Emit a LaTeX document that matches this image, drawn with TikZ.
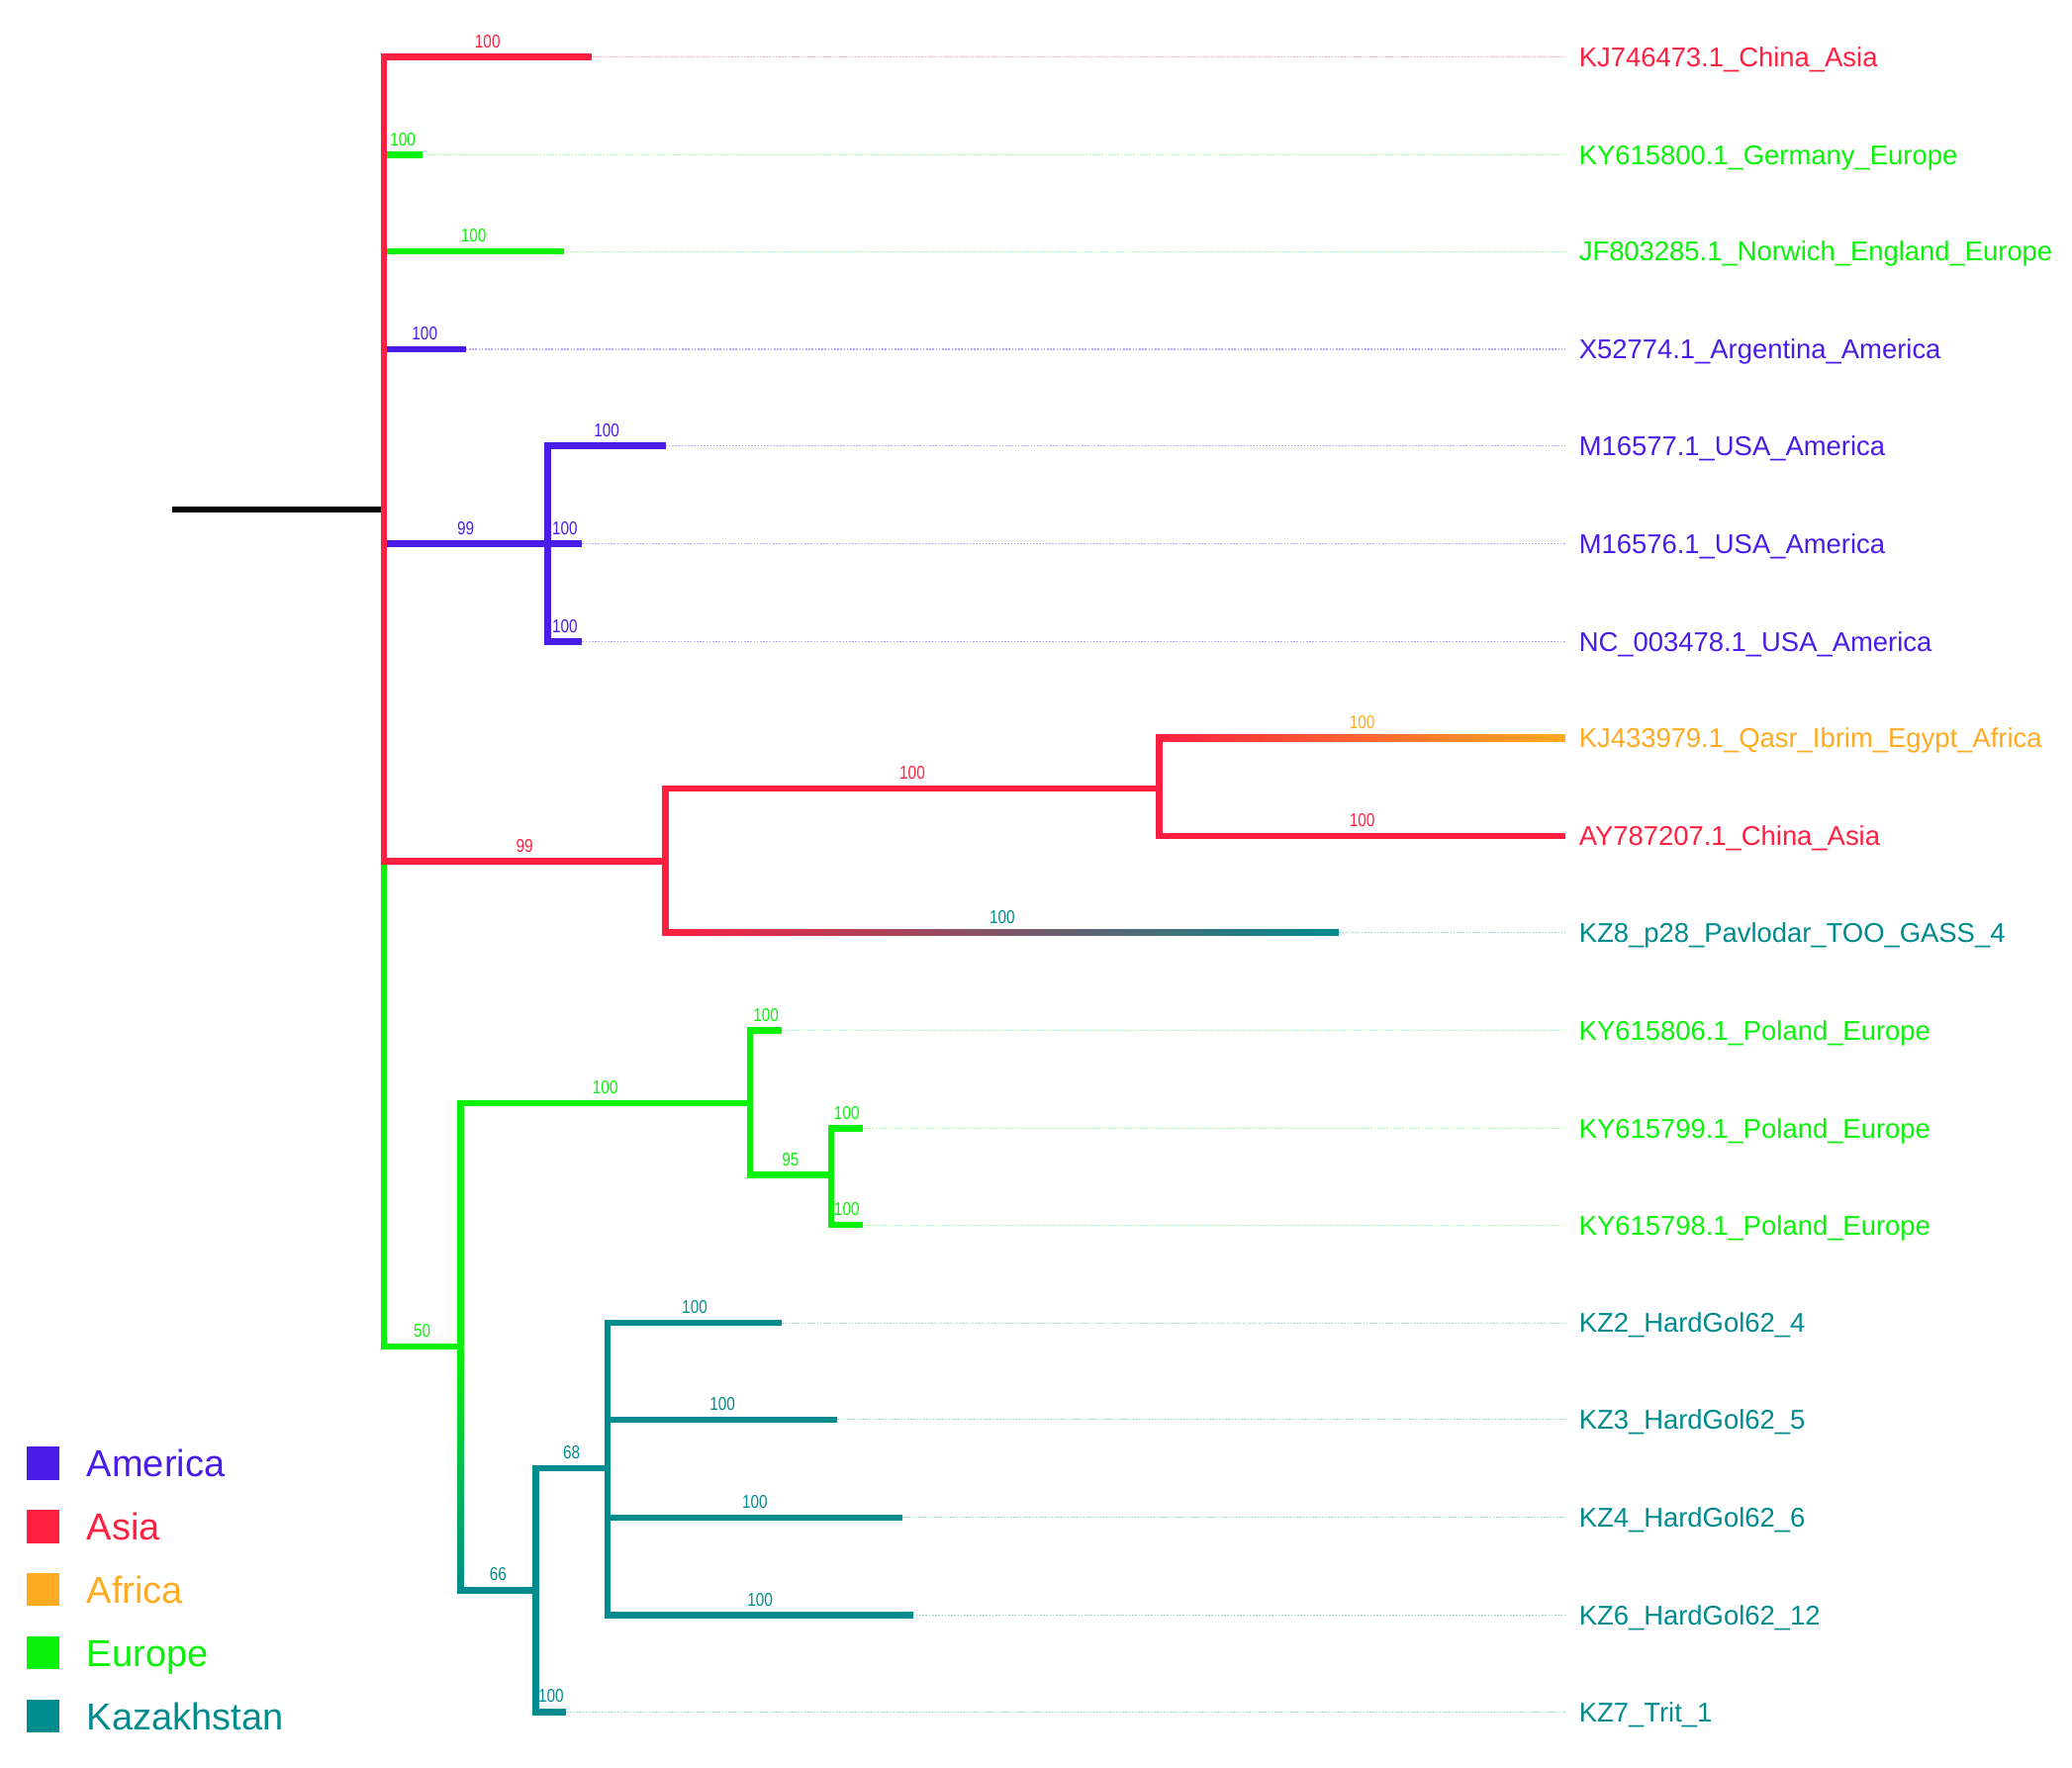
\documentclass[tikz,border=0pt]{standalone}
\usepackage{fontspec}
\setmainfont{Liberation Sans}
\newfontfamily\narrowsf[FakeStretch=0.82]{Liberation Sans}
\usetikzlibrary{calc,positioning}

\definecolor{amer}{HTML}{4A1CE8}
\definecolor{asia}{HTML}{FF1F40}
\definecolor{afri}{HTML}{FFAB22}
\definecolor{euro}{HTML}{0AF20A}
\definecolor{kaz}{HTML}{008B8E}

\begin{document}
\begin{tikzpicture}[x=0.5pt, y=-0.5pt, every node/.style={font=\fontsize{10.25}{12}\selectfont}]
    % 样式
    \tikzstyle{branch} = [line width=2.4pt, line cap=butt, line join=miter]
    \tikzstyle{boot} = [pos=0.75, anchor=base, yshift=3.5pt, inner sep=0pt, font=\narrowsf\fontsize{7}{8}\selectfont]
    \tikzstyle{leader} = [line width=0.4pt, dash pattern=on 0.6pt off 0.6pt]
    \tikzstyle{tiplabel} = [anchor=west, inner xsep=5pt, inner ysep=0pt, text height=7.34pt, text depth=0pt]
    \tikzstyle{legbox} = [minimum size=12.5pt, inner sep=0pt]
    \tikzstyle{legtext} = [anchor=west, inner sep=0pt, text height=10.17pt, text depth=0pt, font=\fontsize{14.2}{16}\selectfont]

    \useasboundingbox (0,0) rectangle (1566,1336);

    % 叶子标签
    \node[tiplabel, text=asia] (l1) at (1183,43) {KJ746473.1\_China\_Asia};
    \node[tiplabel, text=euro] (l2) at (1183,117) {KY615800.1\_Germany\_Europe};
    \node[tiplabel, text=euro] (l3) at (1183,190) {JF803285.1\_Norwich\_England\_Europe};
    \node[tiplabel, text=amer] (l4) at (1183,264) {X52774.1\_Argentina\_America};
    \node[tiplabel, text=amer] (l5) at (1183,337) {M16577.1\_USA\_America};
    \node[tiplabel, text=amer] (l6) at (1183,411) {M16576.1\_USA\_America};
    \node[tiplabel, text=amer] (l7) at (1183,485) {NC\_003478.1\_USA\_America};
    \node[tiplabel, text=afri] (l8) at (1183,558) {KJ433979.1\_Qasr\_Ibrim\_Egypt\_Africa};
    \node[tiplabel, text=asia] (l9) at (1183,632) {AY787207.1\_China\_Asia};
    \node[tiplabel, text=kaz] (l10) at (1183,705) {KZ8\_p28\_Pavlodar\_TOO\_GASS\_4};
    \node[tiplabel, text=euro] (l11) at (1183,779) {KY615806.1\_Poland\_Europe};
    \node[tiplabel, text=euro] (l12) at (1183,853) {KY615799.1\_Poland\_Europe};
    \node[tiplabel, text=euro] (l13) at (1183,926) {KY615798.1\_Poland\_Europe};
    \node[tiplabel, text=kaz] (l14) at (1183,1000) {KZ2\_HardGol62\_4};
    \node[tiplabel, text=kaz] (l15) at (1183,1073) {KZ3\_HardGol62\_5};
    \node[tiplabel, text=kaz] (l16) at (1183,1147) {KZ4\_HardGol62\_6};
    \node[tiplabel, text=kaz] (l17) at (1183,1221) {KZ6\_HardGol62\_12};
    \node[tiplabel, text=kaz] (l18) at (1183,1294) {KZ7\_Trit\_1};

    % 内部节点
    \coordinate (root) at (130,385);
    \coordinate (nRoot) at (290,385);
    \coordinate (nAm) at (414,411);
    \coordinate (nRed) at (503,651);
    \coordinate (nRed2) at (876,596);
    \coordinate (nLow) at (348,1018);
    \coordinate (nPol) at (567,834);
    \coordinate (nPol2) at (628,888);
    \coordinate (nKz) at (405,1202);
    \coordinate (nKz2) at (459,1110);

    % 枝端
    \coordinate (t1) at (447,43);
    \coordinate (t2) at (319,117);
    \coordinate (t3) at (426,190);
    \coordinate (t4) at (352,264);
    \coordinate (t5) at (503,337);
    \coordinate (t6) at (440,411);
    \coordinate (t7) at (440,485);
    \coordinate (t8) at (1183,558);
    \coordinate (t9) at (1183,632);
    \coordinate (t10) at (1012,705);
    \coordinate (t11) at (591,779);
    \coordinate (t12) at (652,853);
    \coordinate (t13) at (652,926);
    \coordinate (t14) at (591,1000);
    \coordinate (t15) at (633,1073);
    \coordinate (t16) at (682,1147);
    \coordinate (t17) at (690,1221);
    \coordinate (t18) at (428,1294);

    % 虚线
    \draw[leader, asia!40] (t1) -- (l1.west);
    \draw[leader, euro!40] (t2) -- (l2.west);
    \draw[leader, euro!40] (t3) -- (l3.west);
    \draw[leader, amer!40] (t4) -- (l4.west);
    \draw[leader, amer!40] (t5) -- (l5.west);
    \draw[leader, amer!40] (t6) -- (l6.west);
    \draw[leader, amer!40] (t7) -- (l7.west);
    \draw[leader, kaz!40] (t10) -- (l10.west);
    \draw[leader, euro!40] (t11) -- (l11.west);
    \draw[leader, euro!40] (t12) -- (l12.west);
    \draw[leader, euro!40] (t13) -- (l13.west);
    \draw[leader, kaz!40] (t14) -- (l14.west);
    \draw[leader, kaz!40] (t15) -- (l15.west);
    \draw[leader, kaz!40] (t16) -- (l16.west);
    \draw[leader, kaz!40] (t17) -- (l17.west);
    \draw[leader, kaz!40] (t18) -- (l18.west);

    % 根
    \draw[branch] (root) -- (nRoot);

    % 下方分支
    \draw[branch, euro] (nRoot) |- node[boot]{50} (nLow);
    \draw[branch, euro] (nLow) |- node[boot]{100} (nPol);
    \draw[branch, euro] (nPol) |- node[boot]{100} (t11);
    \draw[branch, euro] (nPol) |- node[boot]{95} (nPol2);
    \draw[branch, euro] (nPol2) |- node[boot]{100} (t12);
    \draw[branch, euro] (nPol2) |- node[boot]{100} (t13);
    \shade[top color=euro, bottom color=kaz] ($(nLow)+(-2.4,0)$) rectangle ($(nLow |- nKz)+(2.4,2.4)$);
    \draw[branch, kaz] (nLow |- nKz) -- node[boot, midway]{66} (nKz);
    \draw[branch, kaz] (nKz) |- node[boot]{68} (nKz2);
    \draw[branch, kaz] (nKz) |- node[boot]{100} (t18);
    \draw[branch, kaz] (nKz2) |- node[boot]{100} (t14);
    \draw[branch, kaz] (nKz2) |- node[boot]{100} (t15);
    \draw[branch, kaz] (nKz2) |- node[boot]{100} (t16);
    \draw[branch, kaz] (nKz2) |- node[boot]{100} (t17);

    % 上方分支
    \draw[branch, euro] (nRoot) |- node[boot]{100} (t2);
    \draw[branch, euro] (nRoot) |- node[boot]{100} (t3);
    \draw[branch, amer] (nRoot) |- node[boot]{100} (t4);
    \draw[branch, amer] (nRoot) |- node[boot]{99} (nAm);
    \draw[branch, amer] (nAm) |- node[boot]{100} (t5);
    \draw[branch, amer] (nAm) |- node[boot]{100} (t6);
    \draw[branch, amer] (nAm) |- node[boot]{100} (t7);

    % 红色分支
    \draw[branch, asia] (nRoot) |- node[boot]{99} (nRed);
    \draw[branch, asia] (nRed) |- node[boot]{100} (nRed2);
    \draw[branch, asia] (nRed) -- (nRed |- t10);
    \shade[left color=asia, right color=kaz] ($(nRed |- t10)+(-2.4,-2.4)$) rectangle ($(t10)+(0,2.4)$);
    \path (nRed |- t10) -- node[boot, midway, text=kaz]{100} (t10);
    \draw[branch, asia] (nRed2) -- (nRed2 |- t8);
    \shade[left color=asia, right color=afri] ($(nRed2 |- t8)+(-2.4,-2.4)$) rectangle ($(t8)+(0,2.4)$);
    \path (nRed2 |- t8) -- node[boot, midway, text=afri]{100} (t8);
    \draw[branch, asia] (nRed2) |- node[boot]{100} (t9);
    \draw[branch, asia] (nRoot) |- node[boot]{100} (t1);

    % 图例
    \node[legbox, fill=amer] (kAm) at (32.5,1106) {};
    \node[legbox, fill=asia, below=11pt of kAm] (kAs) {};
    \node[legbox, fill=afri, below=11pt of kAs] (kAf) {};
    \node[legbox, fill=euro, below=11pt of kAf] (kEu) {};
    \node[legbox, fill=kaz, below=11pt of kEu] (kKz) {};
    \node[legtext, text=amer, right=10pt of kAm] (tAm) {America};
    \node[legtext, text=asia, right=10pt of kAs] (tAs) {Asia};
    \node[legtext, text=afri, right=10pt of kAf] (tAf) {Africa};
    \node[legtext, text=euro, right=10pt of kEu] (tEu) {Europe};
    \node[legtext, text=kaz, right=10pt of kKz] (tKz) {Kazakhstan};
\end{tikzpicture}
\end{document}
